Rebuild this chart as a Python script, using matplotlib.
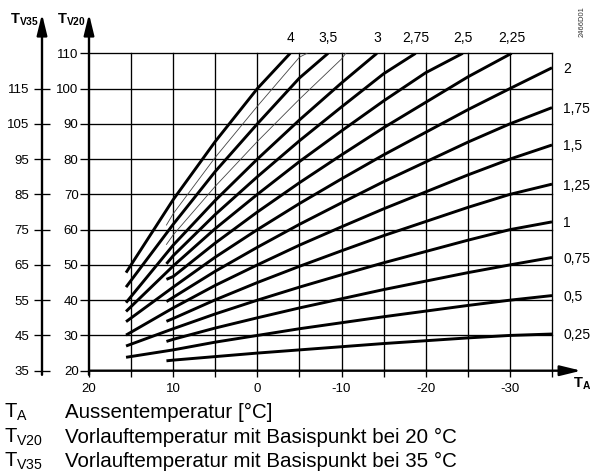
import matplotlib
matplotlib.use("Agg")
import matplotlib.pyplot as plt

plt.rcParams['font.family'] = ['Liberation Sans', 'DejaVu Sans']
plt.rcParams['mathtext.fontset'] = 'custom'
plt.rcParams['mathtext.rm'] = 'Liberation Sans'
plt.rcParams['mathtext.bf'] = 'Liberation Sans:bold'
plt.rcParams['mathtext.it'] = 'Liberation Sans:italic'

# curve values (T_A in degC, T_V20 in degC)
ta_long = [15.6, 10, 5, 0, -5, -10, -15, -20, -25, -30, -35]
ta_short = [10.8, 10, 5, 0, -5, -10, -15, -20, -25, -30, -35]

curve_names = ['4', '3,75', '3,5', '3,25', '3', '2,75', '2,5', '2,25',
               '2', '1,75', '1,5', '1,25', '1', '0,75', '0,5', '0,25']
curve_thin = [False, True, False, True] + [False] * 12
curve_ta = [
    [15.6, 10, 5, 0, -3.9],
    [10.8, 10, 5, 0, -5, -5.9],
    [15.6, 10, 5, 0, -5, -8.4],
    [10.8, 10, 5, 0, -5, -10, -10.5],
    [15.6, 10, 5, 0, -5, -10, -14.2],
    [10.8, 10, 5, 0, -5, -10, -15, -18.8],
    [15.6, 10, 5, 0, -5, -10, -15, -20, -24.4],
    [10.8, 10, 5, 0, -5, -10, -15, -20, -25, -30.2],
    ta_long, ta_short, ta_long, ta_short, ta_long, ta_short, ta_long, ta_short,
]
curve_tv = [
    [47.8, 68.5, 85, 100, 110],
    [61.3, 64.5, 80.5, 95, 108.9, 110],
    [43.7, 61.5, 76.5, 90, 103, 110],
    [55.8, 58.5, 72.3, 85, 97, 108.4, 110],
    [39.3, 55.6, 68.3, 80, 91.1, 101.6, 110],
    [50.3, 52.6, 64.3, 75, 85.2, 94.8, 104.2, 110],
    [36.8, 49.7, 60.3, 70, 79.3, 88, 96.5, 104.5, 110],
    [45.9, 46.7, 56.2, 65, 73.3, 81.2, 88.9, 96.1, 103.3, 110],
    [33.9, 43.7, 52.2, 60, 67.4, 74.4, 81.2, 87.6, 94, 100, 105.9],
    [39.6, 40.8, 48.2, 55, 61.5, 67.6, 73.6, 79.2, 84.8, 90, 94.6],
    [30.1, 37.8, 44.2, 50, 55.6, 60.8, 65.9, 70.7, 75.5, 80, 84.0],
    [34.0, 34.8, 40.1, 45, 49.6, 54, 58.3, 62.3, 66.3, 70, 72.9],
    [27.0, 31.9, 36.1, 40, 43.7, 47.2, 50.6, 53.8, 57, 60, 62.2],
    [28.3, 28.9, 32.1, 35, 37.8, 40.4, 43, 45.4, 47.8, 50, 52.1],
    [23.8, 25.9, 28.1, 30, 31.9, 33.6, 35.3, 36.9, 38.5, 40, 41.3],
    [22.8, 23.0, 24.0, 25, 25.9, 26.8, 27.7, 28.5, 29.3, 30, 30.4],
]

x_major = [20, 10, 0, -10, -20, -30]
x_minor = [15, 5, -5, -15, -25, -35]
y_ticks = [20, 30, 40, 50, 60, 70, 80, 90, 100, 110]
y35_ticks = [35, 45, 55, 65, 75, 85, 95, 105, 115]

W, H = 590, 473
fig = plt.figure(figsize=(W / 100, H / 100), dpi=100)
ax = fig.add_axes([89 / W, 1 - 370.7 / H, 463 / W, 317.4 / H])
ax.set_xlim(20, -35)
ax.set_ylim(20, 110)
for s in ax.spines.values():
    s.set_visible(False)

# grid
for v in x_major[1:] + x_minor:
    ax.axvline(v, color='k', lw=0.95, clip_on=False, zorder=1)
for v in y_ticks[1:]:
    ax.axhline(v, color='k', lw=0.95, clip_on=False, zorder=1)

for i in range(len(curve_names)):
    if curve_thin[i]:
        ax.plot(curve_ta[i], curve_tv[i], color='#444444', lw=0.6, zorder=3)
        continue
    ax.plot(curve_ta[i], curve_tv[i], color='k', lw=2.1, zorder=3,
            solid_capstyle='butt')
    if curve_tv[i][-1] >= 110:
        ax.annotate(curve_names[i], (curve_ta[i][-1], curve_tv[i][-1]),
                    xytext=(0, 11), textcoords='offset points',
                    ha='center', va='center', fontsize=10)
    else:
        ax.annotate(curve_names[i], (curve_ta[i][-1], curve_tv[i][-1]),
                    xytext=(8, -1), textcoords='offset points',
                    ha='left', va='center', fontsize=10)

ax.set_xticks(x_major)
ax.set_xticklabels([str(v) for v in x_major])
ax.set_xticks(x_minor, minor=True)
ax.set_yticks(y_ticks)
ax.tick_params(axis='x', which='both', direction='out', length=4.5, width=0.95,
               pad=4, labelsize=9.5)
ax.tick_params(axis='y', direction='out', length=6.5, width=0.95, pad=1,
               labelsize=9.5)

sec = ax.secondary_yaxis(-47 / 463, functions=(lambda y: y + 15, lambda y: y - 15))
sec.set_yticks(y35_ticks)
sec.spines['left'].set_visible(False)
sec.tick_params(direction='inout', length=12, width=0.95, pad=3, labelsize=9.5)

# axis arrows
arrow = dict(arrowstyle='-|>,head_length=0.9,head_width=0.22', color='k',
             lw=1.7, mutation_scale=14, shrinkA=0, shrinkB=0)
ax.annotate('', xy=(0, 1.124), xytext=(0, -0.013), xycoords='axes fraction',
            arrowprops=arrow, annotation_clip=False)
ax.annotate('', xy=(-47 / 463, 1.124), xytext=(-47 / 463, -0.013),
            xycoords='axes fraction', arrowprops=arrow, annotation_clip=False)
ax.annotate('', xy=(1.063, 0), xytext=(0, 0), xycoords='axes fraction',
            arrowprops=arrow, annotation_clip=False)

fig.text(10 / W, 1 - 20 / H, r'$\mathbf{T_{V35}}$', fontsize=10.5, va='center')
fig.text(57 / W, 1 - 20 / H, r'$\mathbf{T_{V20}}$', fontsize=10.5, va='center')
fig.text(573 / W, 1 - 384 / H, r'$\mathbf{T_{A}}$', fontsize=10.5, va='center')
fig.text(582 / W, 1 - 22 / H, '2466D01', rotation=90, fontsize=5.5,
         ha='center', va='center', color='#333333')

legend_sym = [r'$\mathrm{T_{A}}$', r'$\mathrm{T_{V20}}$', r'$\mathrm{T_{V35}}$']
legend_txt = ['Aussentemperatur [°C]',
              'Vorlauftemperatur mit Basispunkt bei 20 °C',
              'Vorlauftemperatur mit Basispunkt bei 35 °C']
legend_y = [412, 437, 461]
for sym, txt, y in zip(legend_sym, legend_txt, legend_y):
    fig.text(4 / W, 1 - y / H, sym, fontsize=14.5, va='center')
    fig.text(65 / W, 1 - y / H, txt, fontsize=14.8, va='center')

fig.savefig('out.png', dpi=100)
